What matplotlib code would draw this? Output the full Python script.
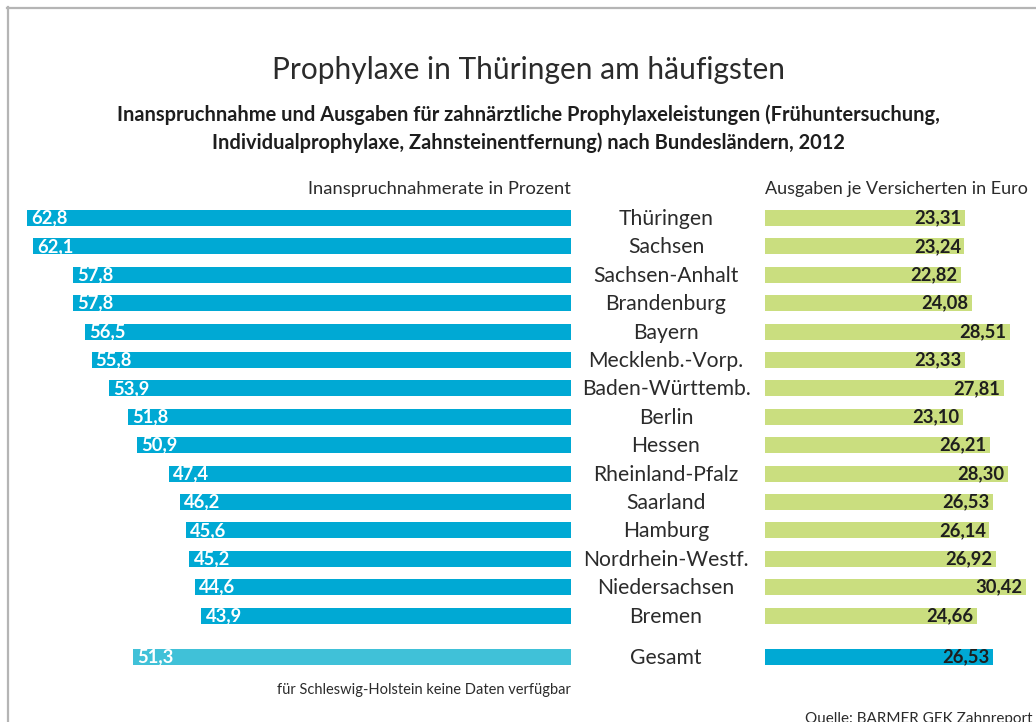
import matplotlib
matplotlib.use("Agg")
import matplotlib.pyplot as plt
from matplotlib.lines import Line2D

# ---- data ----
states = ["Thüringen", "Sachsen", "Sachsen-Anhalt", "Brandenburg", "Bayern",
          "Mecklenb.-Vorp.", "Baden-Württemb.", "Berlin", "Hessen",
          "Rheinland-Pfalz", "Saarland", "Hamburg", "Nordrhein-Westf.",
          "Niedersachsen", "Bremen"]
rate_pct = [62.8, 62.1, 57.8, 57.8, 56.5, 55.8, 53.9, 51.8, 50.9, 47.4,
            46.2, 45.6, 45.2, 44.6, 43.9]
spend_eur = [23.31, 23.24, 22.82, 24.08, 28.51, 23.33, 27.81, 23.10, 26.21,
             28.30, 26.53, 26.14, 26.92, 30.42, 24.66]
total_label = "Gesamt"
total_rate = 51.3
total_spend = 26.53

title = "Prophylaxe in Thüringen am häufigsten"
subtitle = ("Inanspruchnahme und Ausgaben für zahnärztliche Prophylaxeleistungen (Frühuntersuchung,\n"
            "Individualprophylaxe, Zahnsteinentfernung) nach Bundesländern, 2012")
left_header = "Inanspruchnahmerate in Prozent"
right_header = "Ausgaben je Versicherten in Euro"
footnote = "für Schleswig-Holstein keine Daten verfügbar"
source = "Quelle: BARMER GEK Zahnreport 2013"

# ---- style ----
W, H = 1036, 722
BLUE = "#00A9D4"
BLUE_LIGHT = "#40C1D8"
GREEN = "#CADE7F"
TXT = "#2b2b2b"
FONT = ["Lato", "DejaVu Sans"]
plt.rcParams["font.family"] = FONT

fig = plt.figure(figsize=(W / 100, H / 100), dpi=100)

def fx(px):
    return px / W

def fy(py):
    return 1 - py / H

# frame lines (top & left)
fig.add_artist(Line2D([fx(7), fx(W + 5)], [fy(7.5), fy(7.5)], color="#b5b5b5", lw=1.6,
                      transform=fig.transFigure))
fig.add_artist(Line2D([fx(7.5), fx(7.5)], [fy(7), fy(H + 5)], color="#b5b5b5", lw=1.6,
                      transform=fig.transFigure))

# layout in pixels
row0_px = 218.0
row_step = 28.4
ax_top_px, ax_bot_px = 190.0, 680.0
ylim = ((ax_bot_px - row0_px) / row_step, (ax_top_px - row0_px) / row_step)
pos = list(range(len(states)))
total_pos = 15.45
bar_h = 0.56

# left axes (inverted, baseline offset)
L_left, L_right = 20.0, 571.0
px_per_unit_left = 9.23
left_base = 3.85
axL = fig.add_axes([fx(L_left), fy(ax_bot_px), fx(L_right - L_left), (ax_bot_px - ax_top_px) / H])
axL.barh(pos, rate_pct, height=bar_h, color=BLUE)
axL.barh([total_pos], [total_rate], height=bar_h, color=BLUE_LIGHT)
axL.set_xlim(left_base + (L_right - L_left) / px_per_unit_left, left_base)
axL.set_ylim(*ylim)
axL.axis("off")
for p, v in zip(pos + [total_pos], rate_pct + [total_rate]):
    axL.annotate(f"{v:.1f}".replace(".", ","), xy=(v, p), xytext=(3, 0),
                 textcoords="offset points", ha="left", va="center",
                 color="white", fontsize=13.2, fontweight="bold")

# right axes
R_left = 765.0
px_per_unit_right = 8.58
axR = fig.add_axes([fx(R_left), fy(ax_bot_px), fx(W - R_left), (ax_bot_px - ax_top_px) / H])
axR.barh(pos, spend_eur, height=bar_h, color=GREEN)
axR.barh([total_pos], [total_spend], height=bar_h, color=BLUE)
axR.set_xlim(0, (W - R_left) / px_per_unit_right)
axR.set_ylim(*ylim)
axR.axis("off")
for p, v in zip(pos + [total_pos], spend_eur + [total_spend]):
    axR.annotate(f"{v:.2f}".replace(".", ","), xy=(v, p), xytext=(-2.5, 0),
                 textcoords="offset points", ha="right", va="center",
                 color="#1e1e1e", fontsize=13.2, fontweight="bold")

# state labels (centered column)
for p, s in zip(pos + [total_pos], states + [total_label]):
    y_px = row0_px + p * row_step
    fig.text(fx(666), fy(y_px + 1), s, ha="center", va="center", fontsize=15.2, color=TXT)

# titles / headers
fig.text(fx(528), fy(70), title, ha="center", va="center", fontsize=21.5,
         color=TXT, fontweight="normal")
fig.text(fx(528), fy(129), subtitle, ha="center", va="center", fontsize=14.4,
         color="#1e1e1e", fontweight="bold", linespacing=1.45)
fig.text(fx(571), fy(189), left_header, ha="right", va="center", fontsize=13.2, color=TXT)
fig.text(fx(765), fy(189), right_header, ha="left", va="center", fontsize=13.0, color=TXT)
fig.text(fx(571), fy(690), footnote, ha="right", va="center", fontsize=10.5, color=TXT)
fig.text(fx(805), fy(712), source, ha="left", va="top", fontsize=11, color=TXT)

fig.savefig("out.png", dpi=100)
